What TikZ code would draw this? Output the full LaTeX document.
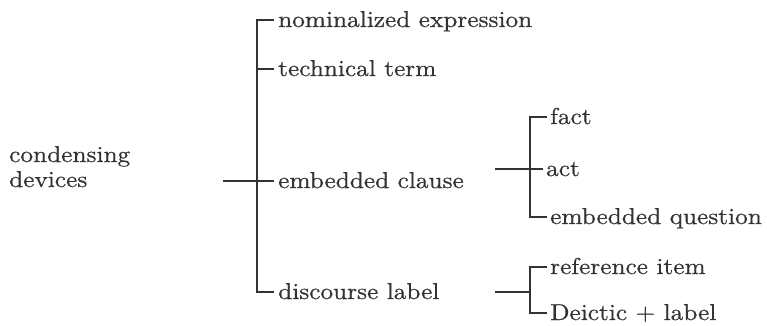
\documentclass[tikz,border=0pt]{standalone}
\usepackage{fontspec}
\setmainfont{lmroman10-regular.otf}[FakeStretch=1.1,FakeBold=0.6]
\definecolor{ink}{HTML}{333333}
\begin{document}
\begin{tikzpicture}[x=1pt,y=-1pt,
  lbl/.style={anchor=west, inner xsep=0pt, inner ysep=0pt, text height=16pt, text depth=2pt,
              font=\fontsize{23}{25}\selectfont, text=ink},
  brk/.style={draw=ink, line width=1.5pt}]
\useasboundingbox (0,0) rectangle (767,326);
% labels
\node[lbl, text height=, text depth=, anchor=base west, align=left] (cd) at (9,187) {condensing\\devices};
\node[lbl] (nom)  at (278,20)  {nominalized expression};
\node[lbl] (tech) at (278,69)  {technical term};
\node[lbl] (emb)  at (278,181) {embedded clause};
\node[lbl] (disc) at (278,292) {discourse label};
\node[lbl] (fact) at (550,117) {fact};
\node[lbl] (act)  at (546,169) {act};
\node[lbl] (eq)   at (550,217) {embedded question};
\node[lbl] (ref)  at (550,267) {reference item};
\node[lbl] (deic) at (550,313) {Deictic + label};
% free ends of the stubs
\coordinate (s1) at (223,181);
\coordinate (s2) at (495,169);
\coordinate (s3) at (495,292);
\coordinate (j3) at (530,292);
% main bracket
\draw[brk] ([xshift=-4pt]nom.west) -| ([xshift=-21pt]disc.west) -- ([xshift=-4pt]disc.west);
\draw[brk] ([xshift=-21pt]tech.west) -- ([xshift=-4pt]tech.west);
\draw[brk] (s1) -- ([xshift=-4pt]emb.west);
% embedded clause bracket
\draw[brk] ([xshift=-3pt]fact.west) -| ([xshift=-20pt]eq.west) -- ([xshift=-3pt]eq.west);
\draw[brk] (s2) -- ([xshift=-3pt]act.west);
% discourse label bracket
\draw[brk] ([xshift=-3pt]ref.west) -| ([xshift=-20pt]deic.west) -- ([xshift=-3pt]deic.west);
\draw[brk] (s3) -- (j3);
\end{tikzpicture}
\end{document}
